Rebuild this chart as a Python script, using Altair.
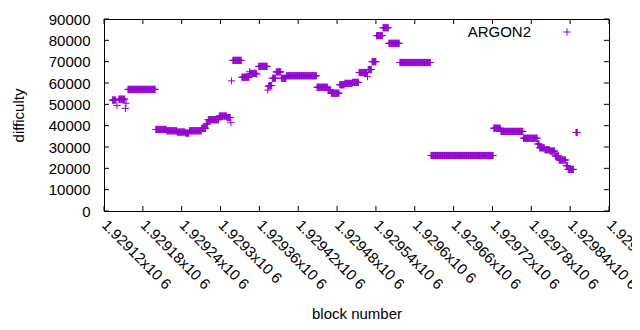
import altair as alt
import pandas as pd

# constant-difficulty runs: first block, last block, difficulty
run_start = [1929133, 1929143, 1929157, 1929200, 1929217, 1929233, 1929246, 1929252,
             1929271, 1929278, 1929281, 1929298, 1929310, 1929319, 1929333, 1929346,
             1929359, 1929375, 1929380, 1929386, 1929394, 1929402, 1929449, 1929466,
             1929471, 1929484, 1929492, 1929504, 1929514, 1929528, 1929534, 1929541,
             1929551, 1929560, 1929577, 1929625, 1929722, 1929733, 1929768, 1929790,
             1929793, 1929801, 1929809, 1929817, 1929823, 1929834, 1929837, 1929849]
run_end = [1929138, 1929152, 1929199, 1929216, 1929232, 1929245, 1929251, 1929270,
           1929277, 1929280, 1929297, 1929309, 1929315, 1929332, 1929344, 1929355,
           1929372, 1929379, 1929385, 1929393, 1929401, 1929448, 1929465, 1929470,
           1929483, 1929491, 1929503, 1929513, 1929526, 1929533, 1929540, 1929550,
           1929559, 1929576, 1929624, 1929721, 1929732, 1929767, 1929789, 1929792,
           1929800, 1929808, 1929816, 1929822, 1929833, 1929836, 1929845, 1929851]
run_value = [52000, 52400, 57000, 38200, 37600, 37000, 36500, 37600,
             38800, 40800, 42800, 44500, 43800, 70600, 62700, 64500,
             67800, 58800, 62200, 65200, 62200, 63400, 58000, 56700,
             55200, 59200, 59800, 60300, 64900, 66300, 70000, 82200,
             85900, 78600, 69600, 26000, 38800, 37300, 34100, 31400,
             29600, 28700, 28100, 25800, 23900, 21200, 19500, 36800]

# isolated blocks
single_block = [1929140, 1929153, 1929154, 1929316, 1929317, 1929345, 1929356,
                1929373, 1929374, 1929527]
single_value = [49500, 48100, 50500, 41400, 61000, 65300, 64200,
                56700, 58300, 63000]

x_ticks = [1929120 + 60 * i for i in range(14)]
y_ticks = [0, 10000, 20000, 30000, 40000, 50000, 60000, 70000, 80000, 90000]

blocks, diffs = [], []
for s, e, v in zip(run_start, run_end, run_value):
    for b in range(s, e + 1):
        blocks.append(b)
        diffs.append(v)
blocks += single_block
diffs += single_value
df = pd.DataFrame({"block": blocks, "difficulty": diffs})

PURPLE = "#9400d3"
FONT = "Liberation Sans"
PLUS = "M-1,0H1M0,-1V1"
W, H = 505, 192

xscale = alt.Scale(domain=[1929120, 1929900], nice=False, zero=False)
yscale = alt.Scale(domain=[0, 90000], nice=False, zero=True)

x_axis = alt.Axis(
    values=x_ticks, title="block number",
    labelExpr="format(datum.value / 1000000, '.5~f') + 'x10 6'",
    labelAngle=45, labelAlign="left", labelBaseline="middle",
    labelPadding=11, labelOverlap=False, labelFlush=False, labelBound=False,
    ticks=False, domain=False, grid=False,
    labelFont=FONT, labelFontSize=15, labelColor="black",
    titleFont=FONT, titleFontSize=15, titleFontWeight="normal", titleColor="black",
    titlePadding=15)
y_axis = alt.Axis(
    values=y_ticks, title="difficulty", format="d",
    labelPadding=14, ticks=False, domain=False, grid=False,
    labelFont=FONT, labelFontSize=15, labelColor="black",
    titleFont=FONT, titleFontSize=15, titleFontWeight="normal", titleColor="black",
    titlePadding=22)

points = alt.Chart(df).mark_point(
    shape=PLUS, size=52, filled=False, color=PURPLE, strokeWidth=1, opacity=1
).encode(
    x=alt.X("block:Q", scale=xscale, axis=x_axis),
    y=alt.Y("difficulty:Q", scale=yscale, axis=y_axis),
)

xt = pd.DataFrame({"block": x_ticks})
yt = pd.DataFrame({"difficulty": y_ticks})

xtick_bottom = alt.Chart(xt).mark_rule(color="black", strokeWidth=1).encode(
    x=alt.X("block:Q", scale=xscale, axis=x_axis), y=alt.value(H), y2=alt.value(H - 5))
xtick_top = alt.Chart(xt).mark_rule(color="black", strokeWidth=1).encode(
    x=alt.X("block:Q", scale=xscale, axis=x_axis), y=alt.value(0), y2=alt.value(5))
ytick_left = alt.Chart(yt).mark_rule(color="black", strokeWidth=1).encode(
    y=alt.Y("difficulty:Q", scale=yscale, axis=y_axis), x=alt.value(0), x2=alt.value(5))
ytick_right = alt.Chart(yt).mark_rule(color="black", strokeWidth=1).encode(
    y=alt.Y("difficulty:Q", scale=yscale, axis=y_axis), x=alt.value(W), x2=alt.value(W - 5))

leg_df = pd.DataFrame({"label": ["ARGON2"]})
leg_text = alt.Chart(leg_df).mark_text(
    align="right", baseline="middle", font=FONT, fontSize=15, color="black"
).encode(text="label:N", x=alt.value(427), y=alt.value(13))
leg_sym = alt.Chart(leg_df).mark_point(
    shape=PLUS, size=52, filled=False, color=PURPLE, strokeWidth=1, opacity=1
).encode(x=alt.value(463), y=alt.value(13))

chart = alt.layer(
    points, xtick_bottom, xtick_top, ytick_left, ytick_right, leg_text, leg_sym
).properties(
    width=W, height=H,
    autosize=alt.AutoSizeParams(type="none"),
    padding={"left": 96, "top": 11, "right": 23, "bottom": 111},
    background="white",
).configure_view(stroke="black", strokeWidth=1)

chart.save("out.html", embed_options={"renderer": "svg", "actions": False})
